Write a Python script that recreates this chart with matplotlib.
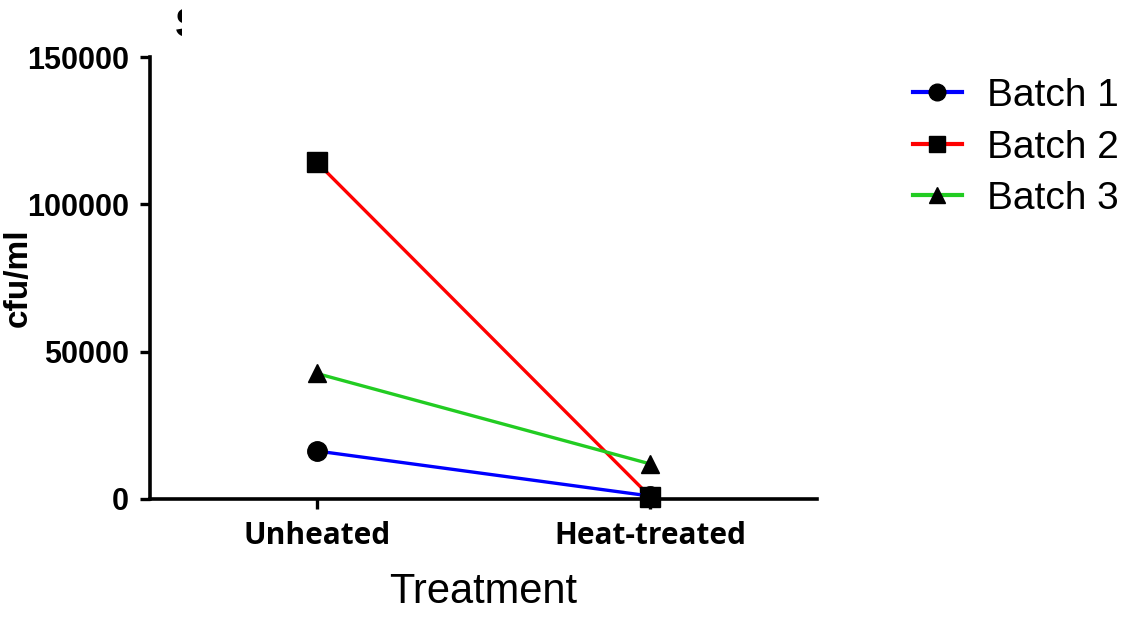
import matplotlib
matplotlib.use("Agg")
import matplotlib.pyplot as plt
from matplotlib.transforms import Bbox

# Treatment groups and colony counts (cfu/ml) per batch
treatments = ["Unheated", "Heat-treated"]
batch_names = ["Batch 1", "Batch 2", "Batch 3"]
batch1 = [16300, 1000]
batch2 = [114300, 800]
batch3 = [42600, 11900]
yticks = [0, 50000, 100000, 150000]

series = [batch1, batch2, batch3]
colors = ["#0000ff", "#ff0000", "#22cc22"]
markers = ["o", "s", "^"]
msizes = [14, 14, 13]
zorders = [5, 4, 4]

W, H = 1143, 617
fig = plt.figure(figsize=(W / 100, H / 100), dpi=100)
ax = fig.add_axes([150 / W, 1 - 499 / H, (817 - 150) / W, (499 - 57) / H])

x = list(range(len(treatments)))
for vals, name, c, m, ms, z in zip(series, batch_names, colors, markers, msizes, zorders):
    ax.plot(x, vals, color=c, lw=2.4, marker=m, ms=ms, mfc="black",
            mec="black", label=name, clip_on=False, zorder=z)

ax.set_xlim(-0.5, 1.5)
ax.set_ylim(0, 150000)
ax.set_yticks(yticks)
ax.set_yticklabels([str(v) for v in yticks], fontfamily="Liberation Sans",
                   fontweight="bold", fontsize=22)
ax.set_xticks(x)
ax.set_xticklabels(treatments, fontfamily="Open Sans", fontweight="bold", fontsize=21.5)

for s in ["top", "right"]:
    ax.spines[s].set_visible(False)
for s in ["left", "bottom"]:
    ax.spines[s].set_linewidth(2.6)
ax.tick_params(axis="y", length=7, width=2.4, pad=8)
ax.tick_params(axis="x", length=7, width=2.4, pad=9)

ax.set_ylabel("cfu/ml", fontfamily="Liberation Sans", fontweight="bold",
              fontsize=24)
ax.yaxis.set_label_coords((34 - 150) / (817 - 150), 0.5)
ax.set_xlabel("Treatment", fontfamily="Liberation Sans", fontsize=30, labelpad=15)

leg = ax.legend(loc="upper left", bbox_to_anchor=(913 / W, 1 - 78 / H),
                bbox_transform=fig.transFigure, frameon=False,
                prop={"family": "Liberation Sans", "size": 28},
                handlelength=1.25, handletextpad=0.65, labelspacing=0.40,
                borderaxespad=0, borderpad=0)
for ln in leg.get_lines():
    ln.set_linewidth(3)
    ln.set_markersize(12)

# Panel letter, cut off at the right edge
t = fig.text(175 / W, 1 - 6 / H, "S", fontfamily="Liberation Sans",
             fontweight="bold", fontsize=30, ha="left", va="top")
t.set_clip_box(Bbox.from_extents(0, 0, 182, H))
t.set_clip_on(True)

fig.savefig("out.png", dpi=100)
